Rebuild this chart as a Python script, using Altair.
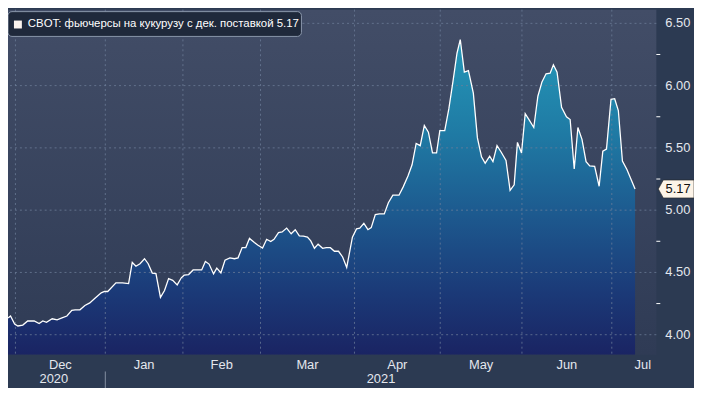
import altair as alt
import pandas as pd

# ---- data (x = trading-day index, Dec 1 2020 = 0) ----
days = [-1.8, -1.2, -0.2, 0.6, 1.8, 3.0, 4.6, 5.8, 6.7, 7.6, 9.0, 10.2, 11.4, 12.6, 13.8, 14.6, 15.8,
        17.0, 18.2, 19.4, 21.0, 21.8, 22.6, 24.6, 26.2, 27.7, 28.6, 29.5, 30.5,
        31.6, 32.5, 33.5, 34.4, 35.5, 36.5, 37.5, 38.5, 39.6, 40.6, 41.3, 42.4, 43.5, 44.5, 45.6, 46.5,
        47.4, 48.5, 49.3, 50.3, 51.3, 52.5, 53.6, 54.5, 55.5, 56.4, 57.3, 58.5,
        59.3, 60.5, 61.5, 62.5, 63.3, 64.4, 65.3, 66.4, 67.5, 68.5, 69.5, 70.5, 71.5, 72.3, 73.2, 74.1,
        75.2, 76.1, 77.1, 78.1, 79.1, 80.1, 81.1, 82.5, 83.5, 84.3, 85.3, 86.3, 87.1, 88.1, 89.1, 90.3,
        91.3, 92.4, 93.9,
        94.9, 96.1, 97.1, 98.1, 99.1, 100.1, 101.1, 102.1, 103.1, 103.9, 105.1, 106.1, 107.1, 108.1,
        108.9, 109.9, 110.9, 112.1, 113.1, 114.1, 115.0, 116.1, 116.9, 117.9, 118.9, 120.1, 121.1,
        122.1, 122.9, 123.9,
        124.8, 125.8, 126.9, 127.9, 128.9, 129.9, 130.9, 131.7, 132.6, 133.7, 134.9, 135.8, 136.8,
        137.7, 138.7, 139.7, 140.6, 141.8, 142.9, 143.8, 144.7, 145.8, 146.7, 147.6, 148.6, 149.7, 151.7]
prices = [4.135, 4.15, 4.085, 4.07, 4.077, 4.11, 4.11, 4.09, 4.11, 4.10, 4.128, 4.12, 4.135, 4.15,
          4.195, 4.20, 4.20, 4.235, 4.255, 4.29, 4.336, 4.347, 4.347, 4.416, 4.416, 4.41, 4.58, 4.55, 4.57,
          4.61, 4.57, 4.495, 4.49, 4.30, 4.355, 4.45, 4.437, 4.40, 4.457, 4.478, 4.483, 4.52, 4.52, 4.52,
          4.588, 4.567, 4.488, 4.534, 4.496, 4.598, 4.617, 4.61, 4.617, 4.70, 4.70, 4.773, 4.74,
          4.72, 4.696, 4.766, 4.748, 4.766, 4.82, 4.825, 4.856, 4.81, 4.843, 4.794, 4.791, 4.783, 4.753,
          4.694, 4.727, 4.694, 4.70, 4.699, 4.67, 4.67, 4.624, 4.54, 4.783, 4.85, 4.856, 4.894, 4.843,
          4.86, 4.964, 4.97, 4.97, 5.06, 5.12, 5.12,
          5.185, 5.274, 5.364, 5.536, 5.518, 5.68, 5.626, 5.46, 5.46, 5.638, 5.638, 5.813, 6.03, 6.26,
          6.37, 6.108, 6.12, 5.94, 5.58, 5.428, 5.377, 5.433, 5.39, 5.518, 5.467, 5.40, 5.159, 5.203,
          5.544, 5.459,
          5.774, 5.723, 5.664, 5.915, 6.03, 6.095, 6.10, 6.167, 6.108, 5.826, 5.749, 5.728, 5.33, 5.664,
          5.569, 5.39, 5.356, 5.351, 5.192, 5.474, 5.49, 5.89, 5.895, 5.80, 5.395, 5.326, 5.17]

month_bounds = [0, 22, 41, 60, 83, 104, 124, 146]
month_names = ["Dec", "Jan", "Feb", "Mar", "Apr", "May", "Jun", "Jul"]
month_label_pos = [11, 31.5, 50.5, 71.5, 93.5, 114, 135, 153.6]
year_labels = ["2020", "2021"]
year_label_pos = [9.4, 89.5]
year_sep = [22]
y_ticks = [4.0, 4.5, 5.0, 5.5, 6.0, 6.5]
y_tick_labels = ["4.00", "4.50", "5.00", "5.50", "6.00", "6.50"]
y_minor = [4.25, 4.75, 5.25, 5.75, 6.25]
last_value = 5.17
series_name = "CBOT: фьючерсы на кукурузу с дек. поставкой"

# ---- layout / style ----
W, H = 654, 348
X_DOM = [-1.82, 156.9]
Y_DOM = [3.84, 6.61]
FONT = "Liberation Sans"
TXT = "#e4e7ee"
GRID = "#6f7f9a"

xs = alt.Scale(domain=X_DOM, nice=False, zero=False)
ys = alt.Scale(domain=Y_DOM, nice=False, zero=False)

df = pd.DataFrame({"day": days, "price": prices})
one = pd.DataFrame({"k": [0]})

bg = alt.Chart(one).mark_rect(
    fill=alt.Gradient(gradient="linear", x1=0, x2=0, y1=0, y2=1,
                      stops=[alt.GradientStop(offset=0, color="#424d67"),
                             alt.GradientStop(offset=1, color="#2f3b55")])
).encode(x=alt.value(0), x2=alt.value(W), y=alt.value(0), y2=alt.value(H))

area = alt.Chart(df).mark_area(
    clip=True,
    fill=alt.Gradient(gradient="linear", x1=0, x2=0, y1=0, y2=1,
                      stops=[alt.GradientStop(offset=0, color="#2598b8"),
                             alt.GradientStop(offset=0.3, color="#1f7aa4"),
                             alt.GradientStop(offset=0.55, color="#1d5a8f"),
                             alt.GradientStop(offset=0.8, color="#1b3a78"),
                             alt.GradientStop(offset=1, color="#1a2463")])
).encode(
    x=alt.X("day:Q", scale=xs, axis=alt.Axis(values=month_bounds, labels=False, grid=False,
                                               tickColor="white", tickSize=5, domainColor="white",
                                               title=None)),
    y=alt.Y("price:Q", scale=ys, axis=alt.Axis(orient="right", values=y_ticks, labels=False,
                                                 grid=False, tickSize=6, tickColor="white",
                                                 domainColor="white", title=None)),
    y2=alt.datum(Y_DOM[0]),
)

hgrid = alt.Chart(pd.DataFrame({"v": y_ticks})).mark_rule(
    strokeDash=[2, 3], color=GRID, strokeWidth=1, opacity=0.75
).encode(y=alt.Y("v:Q", scale=ys, axis=None))

vgrid = alt.Chart(pd.DataFrame({"m": month_bounds})).mark_rule(
    strokeDash=[2, 3], color=GRID, strokeWidth=1, opacity=0.75
).encode(x=alt.X("m:Q", scale=xs, axis=None))

line = alt.Chart(df).mark_line(color="white", strokeWidth=1.3, clip=True).encode(
    x=alt.X("day:Q", scale=xs, axis=None), y=alt.Y("price:Q", scale=ys, axis=None))

minor = alt.Chart(pd.DataFrame({"v": y_minor})).mark_rule(color="white", strokeWidth=1).encode(
    y=alt.Y("v:Q", scale=ys, axis=None), x=alt.value(W), x2=alt.value(W + 4))

ylab = alt.Chart(pd.DataFrame({"v": y_ticks, "lab": y_tick_labels})).mark_text(
    color=TXT, fontSize=13, font=FONT, align="left", baseline="middle"
).encode(y=alt.Y("v:Q", scale=ys, axis=None), x=alt.value(W + 9), text="lab:N")

mlabels = alt.Chart(pd.DataFrame({"pos": month_label_pos, "name": month_names})).mark_text(
    color=TXT, fontSize=13, font=FONT, align="center", baseline="middle"
).encode(x=alt.X("pos:Q", scale=xs, axis=None), y=alt.value(H + 10), text="name:N")

ylabels = alt.Chart(pd.DataFrame({"pos": year_label_pos, "name": year_labels})).mark_text(
    color=TXT, fontSize=13, font=FONT, align="center", baseline="middle"
).encode(x=alt.X("pos:Q", scale=xs, axis=None), y=alt.value(H + 25), text="name:N")

ysep = alt.Chart(pd.DataFrame({"s": year_sep})).mark_rule(color="#8590a3", strokeWidth=1).encode(
    x=alt.X("s:Q", scale=xs, axis=None), y=alt.value(H + 17), y2=alt.value(H + 34))

leg_box = alt.Chart(one).mark_rect(
    cornerRadius=4, fill="#1f293b", stroke="#8b97ab", strokeWidth=1
).encode(x=alt.value(0), x2=alt.value(296), y=alt.value(2), y2=alt.value(27))

leg_sq = alt.Chart(one).mark_rect(fill="#fbf3ee").encode(
    x=alt.value(6), x2=alt.value(14), y=alt.value(11), y2=alt.value(19))

leg_txt = alt.Chart(pd.DataFrame({"t": [f"{series_name}  {last_value:.2f}"]})).mark_text(
    color="white", fontSize=11.5, font=FONT, align="left", baseline="middle"
).encode(x=alt.value(20), y=alt.value(15), text="t:N")

tag = alt.Chart(one).mark_point(
    shape="M -1 0 L -0.72 -0.5 L 1 -0.5 L 1 0.5 L -0.72 0.5 Z",
    size=1296, filled=True, fill="#fdf4e8", stroke="#222222", strokeWidth=0.6, opacity=1
).encode(x=alt.value(W + 20), y=alt.Y(datum=last_value, scale=ys, axis=None))

tag_txt = alt.Chart(one).mark_text(
    color="#111111", fontSize=13, font=FONT, align="center", baseline="middle"
).encode(x=alt.value(W + 22), y=alt.Y(datum=last_value, scale=ys, axis=None),
         text=alt.value(f"{last_value:.2f}"))

chart = alt.layer(
    bg, area, hgrid, vgrid, line, minor, ylab, mlabels, ylabels, ysep,
    leg_box, leg_sq, leg_txt, tag, tag_txt
).properties(
    width=W, height=H,
    autosize=alt.AutoSizeParams(type="none"),
    padding={"left": 0, "top": 0, "right": 38, "bottom": 32},
    background="#2c3a52",
).configure_view(stroke=None)

chart.save("out.html", embed_options={"renderer": "svg", "actions": False})
